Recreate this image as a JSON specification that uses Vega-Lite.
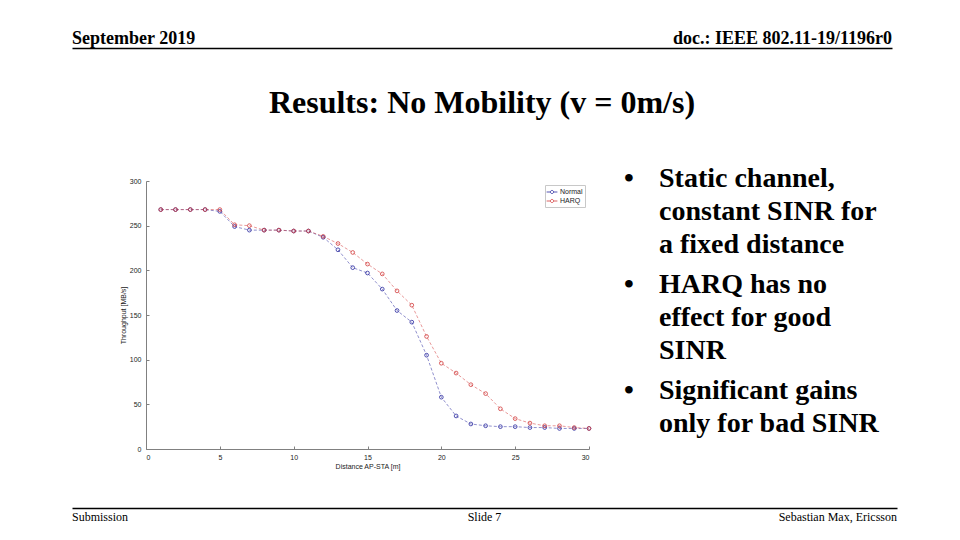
{
  "$schema": "https://vega.github.io/schema/vega-lite/v6.json",
  "background": "white",
  "padding": {"left": 72, "top": 30, "right": 63, "bottom": 17},
  "config": {"view": {"stroke": null}},
  "spacing": 39,
  "resolve": {"scale": {"color": "independent"}, "legend": {"color": "independent"}},
  "vconcat": [
    {
      "width": 820,
      "height": 18,
      "layer": [
        {
          "data": {"values": [{"label": "September 2019"}]},
          "mark": {"type": "text", "align": "left", "baseline": "middle", "font": "Liberation Serif", "fontSize": 18, "fontWeight": "bold", "color": "black"},
          "encoding": {
            "x": {"datum": 0, "type": "quantitative", "scale": {"domain": [0, 1]},
              "axis": {"domain": true, "domainColor": "black", "domainWidth": 1.5, "ticks": false, "labels": false, "grid": false, "title": null}},
            "text": {"field": "label"}
          }
        },
        {
          "data": {"values": [{"label": "doc.: IEEE 802.11-19/1196r0"}]},
          "mark": {"type": "text", "align": "right", "baseline": "middle", "font": "Liberation Serif", "fontSize": 18, "fontWeight": "bold", "color": "black"},
          "encoding": {
            "x": {"datum": 1, "type": "quantitative", "scale": {"domain": [0, 1]},
              "axis": {"domain": true, "domainColor": "black", "domainWidth": 1.5, "ticks": false, "labels": false, "grid": false, "title": null}},
            "text": {"field": "label"}
          }
        }
      ]
    },
    {
      "width": 820,
      "height": 39,
      "data": {"values": [{"label": "Results: No Mobility (v = 0m/s)"}]},
      "mark": {"type": "text", "align": "center", "baseline": "middle", "dy": -3.5, "font": "Liberation Serif", "fontSize": 32, "fontWeight": "bold", "color": "black"},
      "encoding": {"text": {"field": "label"}}
    },
    {
      "bounds": "flush",
      "spacing": 0,
      "resolve": {"scale": {"color": "independent"}, "legend": {"color": "independent"}},
      "hconcat": [
        {"width": 74, "height": 10, "data": {"values": []}, "mark": "point"},
        {
          "width": 443,
          "height": 268,
          "data": {
            "values": [
              {"d": 1, "series": "Normal", "tp": 268}, {"d": 2, "series": "Normal", "tp": 268},
              {"d": 3, "series": "Normal", "tp": 268}, {"d": 4, "series": "Normal", "tp": 268},
              {"d": 5, "series": "Normal", "tp": 266}, {"d": 6, "series": "Normal", "tp": 249},
              {"d": 7, "series": "Normal", "tp": 245}, {"d": 8, "series": "Normal", "tp": 245},
              {"d": 9, "series": "Normal", "tp": 245}, {"d": 10, "series": "Normal", "tp": 244},
              {"d": 11, "series": "Normal", "tp": 244}, {"d": 12, "series": "Normal", "tp": 237},
              {"d": 13, "series": "Normal", "tp": 223}, {"d": 14, "series": "Normal", "tp": 203},
              {"d": 15, "series": "Normal", "tp": 197}, {"d": 16, "series": "Normal", "tp": 179},
              {"d": 17, "series": "Normal", "tp": 155}, {"d": 18, "series": "Normal", "tp": 142},
              {"d": 19, "series": "Normal", "tp": 105}, {"d": 20, "series": "Normal", "tp": 58},
              {"d": 21, "series": "Normal", "tp": 37}, {"d": 22, "series": "Normal", "tp": 28},
              {"d": 23, "series": "Normal", "tp": 26}, {"d": 24, "series": "Normal", "tp": 25},
              {"d": 25, "series": "Normal", "tp": 25}, {"d": 26, "series": "Normal", "tp": 24},
              {"d": 27, "series": "Normal", "tp": 24}, {"d": 28, "series": "Normal", "tp": 23},
              {"d": 29, "series": "Normal", "tp": 23}, {"d": 30, "series": "Normal", "tp": 23},
              {"d": 1, "series": "HARQ", "tp": 268}, {"d": 2, "series": "HARQ", "tp": 268},
              {"d": 3, "series": "HARQ", "tp": 268}, {"d": 4, "series": "HARQ", "tp": 268},
              {"d": 5, "series": "HARQ", "tp": 268}, {"d": 6, "series": "HARQ", "tp": 251},
              {"d": 7, "series": "HARQ", "tp": 250}, {"d": 8, "series": "HARQ", "tp": 245},
              {"d": 9, "series": "HARQ", "tp": 245}, {"d": 10, "series": "HARQ", "tp": 244},
              {"d": 11, "series": "HARQ", "tp": 244}, {"d": 12, "series": "HARQ", "tp": 238},
              {"d": 13, "series": "HARQ", "tp": 230}, {"d": 14, "series": "HARQ", "tp": 220},
              {"d": 15, "series": "HARQ", "tp": 207}, {"d": 16, "series": "HARQ", "tp": 196},
              {"d": 17, "series": "HARQ", "tp": 177}, {"d": 18, "series": "HARQ", "tp": 161},
              {"d": 19, "series": "HARQ", "tp": 126}, {"d": 20, "series": "HARQ", "tp": 96},
              {"d": 21, "series": "HARQ", "tp": 85}, {"d": 22, "series": "HARQ", "tp": 72},
              {"d": 23, "series": "HARQ", "tp": 62}, {"d": 24, "series": "HARQ", "tp": 45},
              {"d": 25, "series": "HARQ", "tp": 34}, {"d": 26, "series": "HARQ", "tp": 29},
              {"d": 27, "series": "HARQ", "tp": 26}, {"d": 28, "series": "HARQ", "tp": 26},
              {"d": 29, "series": "HARQ", "tp": 24}, {"d": 30, "series": "HARQ", "tp": 23}
            ]
          },
          "encoding": {
            "x": {
              "field": "d",
              "type": "quantitative",
              "scale": {"domain": [0, 30], "nice": false},
              "axis": {
                "values": [0, 5, 10, 15, 20, 25, 30],
                "title": "Distance AP-STA [m]",
                "grid": false,
                "domainColor": "#808080",
                "tickColor": "#808080",
                "tickSize": -3,
                "labelPadding": 7,
                "labelFont": "Liberation Sans",
                "labelFontSize": 7,
                "labelColor": "#222222",
                "titleFont": "Liberation Sans",
                "titleFontSize": 7,
                "titleFontWeight": "normal",
                "titleColor": "#222222",
                "titlePadding": 2
              }
            },
            "y": {
              "field": "tp",
              "type": "quantitative",
              "scale": {"domain": [0, 300], "nice": false},
              "axis": {
                "values": [0, 50, 100, 150, 200, 250, 300],
                "title": "Throughput [MB/s]",
                "grid": false,
                "domainColor": "#808080",
                "tickColor": "#808080",
                "tickSize": -3,
                "labelPadding": 8,
                "labelFont": "Liberation Sans",
                "labelFontSize": 7,
                "labelColor": "#222222",
                "titleFont": "Liberation Sans",
                "titleFontSize": 7,
                "titleFontWeight": "normal",
                "titleColor": "#222222",
                "titlePadding": 3
              }
            },
            "color": {
              "field": "series",
              "type": "nominal",
              "scale": {"domain": ["Normal", "HARQ"], "range": ["#2a2aa0", "#d23c3c"]},
              "legend": {
                "title": null,
                "orient": "top-right",
                "offset": 4,
                "padding": 2,
                "strokeColor": "#c8c8c8",
                "fillColor": "white",
                "labelFont": "Liberation Sans",
                "labelFontSize": 7,
                "labelColor": "#222222",
                "labelOffset": 3,
                "rowPadding": 0,
                "symbolType": "M-1.2,0L-0.35,0M0.35,0L1.2,0M-0.35,0A0.35,0.35 0 1,0 0.35,0A0.35,0.35 0 1,0 -0.35,0",
                "symbolSize": 81,
                "symbolStrokeWidth": 0.8,
                "symbolFillColor": "transparent"
              }
            }
          },
          "layer": [
            {"mark": {"type": "line", "strokeDash": [3, 2], "strokeWidth": 0.7, "strokeOpacity": 0.75}},
            {"mark": {"type": "point", "filled": false, "size": 14, "strokeWidth": 0.8, "opacity": 1}}
          ]
        },
        {
          "width": 70,
          "height": 212,
          "data": {
            "values": [
              {"item": 1, "body": "Static channel,\nconstant SINR for\na fixed distance"},
              {"item": 2, "body": "HARQ has no\neffect for good\nSINR"},
              {"item": 3, "body": "Significant gains\nonly for bad SINR"}
            ]
          },
          "encoding": {
            "y": {"field": "item", "type": "ordinal", "scale": {"type": "point", "padding": 0}, "axis": null}
          },
          "layer": [
            {
              "mark": {"type": "text", "text": "•", "align": "center", "baseline": "alphabetic", "dy": 6, "font": "Liberation Serif", "fontSize": 28, "fontWeight": "bold", "color": "black"},
              "encoding": {"x": {"datum": 0, "type": "quantitative", "scale": {"domain": [-40, 30], "zero": false}, "axis": null}}
            },
            {
              "mark": {"type": "text", "align": "left", "baseline": "alphabetic", "dy": 6, "lineBreak": "\n", "lineHeight": 33, "font": "Liberation Serif", "fontSize": 28, "fontWeight": "bold", "color": "black"},
              "encoding": {
                "x": {"datum": 30, "type": "quantitative", "scale": {"domain": [-40, 30], "zero": false}, "axis": null},
                "text": {"field": "body"}
              }
            }
          ]
        }
      ]
    },
    {
      "width": 825,
      "height": 17,
      "data": {
        "values": [
          {"label": "Submission", "where": "left"},
          {"label": "Slide 7", "where": "middle"},
          {"label": "Sebastian Max, Ericsson", "where": "right"}
        ]
      },
      "layer": [
        {
          "transform": [{"filter": "datum.where === 'left'"}],
          "mark": {"type": "text", "align": "left", "baseline": "middle", "font": "Liberation Serif", "fontSize": 12, "color": "black"},
          "encoding": {
            "x": {"datum": 0, "type": "quantitative", "scale": {"domain": [0, 1]},
              "axis": {"orient": "top", "domain": true, "domainColor": "black", "domainWidth": 1.5, "ticks": false, "labels": false, "grid": false, "title": null}},
            "text": {"field": "label"}
          }
        },
        {
          "transform": [{"filter": "datum.where === 'middle'"}],
          "mark": {"type": "text", "align": "center", "baseline": "middle", "font": "Liberation Serif", "fontSize": 12, "color": "black"},
          "encoding": {
            "x": {"datum": 0.5, "type": "quantitative", "scale": {"domain": [0, 1]},
              "axis": {"orient": "top", "domain": true, "domainColor": "black", "domainWidth": 1.5, "ticks": false, "labels": false, "grid": false, "title": null}},
            "text": {"field": "label"}
          }
        },
        {
          "transform": [{"filter": "datum.where === 'right'"}],
          "mark": {"type": "text", "align": "right", "baseline": "middle", "font": "Liberation Serif", "fontSize": 12, "color": "black"},
          "encoding": {
            "x": {"datum": 1, "type": "quantitative", "scale": {"domain": [0, 1]},
              "axis": {"orient": "top", "domain": true, "domainColor": "black", "domainWidth": 1.5, "ticks": false, "labels": false, "grid": false, "title": null}},
            "text": {"field": "label"}
          }
        }
      ]
    }
  ]
}
